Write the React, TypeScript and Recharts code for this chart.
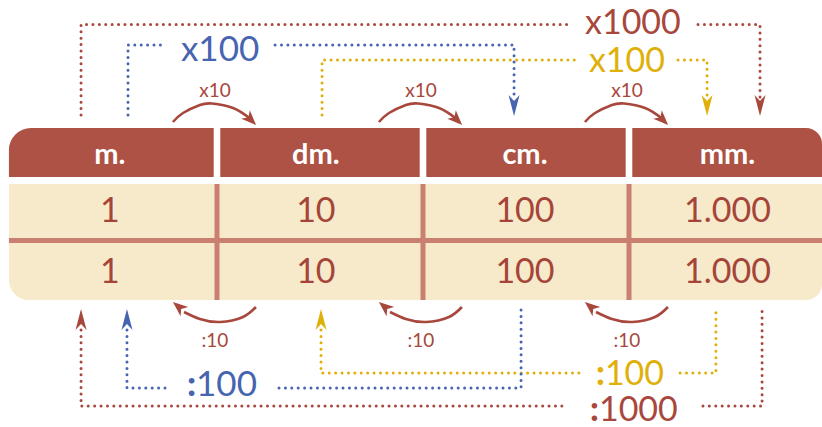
import React from "react";
import {
    ComposedChart,
    XAxis,
    YAxis,
    Line,
    Scatter,
    ReferenceArea,
    ReferenceLine,
    Rectangle,
} from "recharts";

// table content
const units = ["m.", "dm.", "cm.", "mm."];
const firstRow = [1, 10, 100, 1000];
const secondRow = [1, 10, 100, 1000];
const stepUp = "x10";
const stepDown = ":10";

// x is measured in table columns, y in px from the top
const colBounds = [-0.51, 0.5, 1.5, 2.5, 3.437];
const colCenters = [-0.02, 0.98, 1.995, 2.978];
const stepBounds = [0.5, 1.5, 2.5];

const RED = "#a8473c";
const BLUE = "#4664b0";
const YELLOW = "#e0b00a";
const HEADER = "#ad5244";
const CREAM = "#f7eacb";
const DIVIDER = "#c98071";
const VALUE = "#a5453a";
const FONT = "Lato, 'Open Sans', sans-serif";

// dotted connectors, [x, y] with a null gap where the label sits
const topRed = [[-0.16, 115], [-0.16, 24.5], [2.204, 24.5], [2.52, null], [2.835, 24.5], [3.136, 24.5], [3.136, 97]];
const topBlue = [[0.068, 115], [0.068, 45], [0.252, 45], [0.5, null], [0.782, 45], [1.942, 45], [1.942, 97]];
const topYellow = [[1.01, 115], [1.01, 60], [2.252, 60], [2.5, null], [2.738, 60], [2.879, 60], [2.879, 97]];
const bottomRed = [[-0.16, 330], [-0.16, 406], [2.204, 406], [2.52, null], [2.859, 406], [3.146, 406], [3.146, 309]];
const bottomBlue = [[0.063, 330], [0.063, 388], [0.252, 388], [0.52, null], [0.801, 388], [1.976, 388], [1.976, 309]];
const bottomYellow = [[1.005, 330], [1.005, 373], [2.282, 373], [2.5, null], [2.748, 373], [2.922, 373], [2.922, 309]];

const downTips = { red: [[3.136, 116]], blue: [[1.942, 116]], yellow: [[2.879, 116]] };
const upTips = { red: [[-0.16, 309]], blue: [[0.063, 309]], yellow: [[1.005, 309]] };

const bigLabels = {
    red: [{ x: 2.519, y: 34, label: "x1000" }, { x: 2.524, y: 421, label: ":1000" }],
    blue: [{ x: 0.515, y: 61, label: "x100" }, { x: 0.524, y: 396, label: ":100" }],
    yellow: [{ x: 2.49, y: 72, label: "x100" }, { x: 2.505, y: 385, label: ":100" }],
};

// arc shape around each column boundary: [offset from boundary, y]
const topArc = [[-0.214, 122], [-0.165, 113], [-0.083, 105], [-0.024, 103.5], [0.078, 108], [0.16, 118.5]];
const bottomArc = [[0.189, 307], [0.126, 317], [0.015, 322], [-0.083, 319], [-0.16, 312]];

const pts = (arr: (number | null)[][]) => arr.map(([x, y]) => ({ x, y }));

const topArcs = stepBounds.map((b) => pts(topArc.map(([dx, y]) => [b + dx, y])));
const bottomArcs = stepBounds.map((b) => pts(bottomArc.map(([dx, y]) => [b + dx, y])));
const topArcTips = stepBounds.map((b) => ({ x: b + 0.19, y: 125 }));
const bottomArcTips = stepBounds.map((b) => ({ x: b - 0.214, y: 302 }));

const fmt = (v: number) => String(v).replace(/\B(?=(\d{3})+(?!\d))/g, ".");

const headerMarks = units.map((u, i) => ({ x: colCenters[i], y: 164, label: u }));
const valueMarks = [
    ...firstRow.map((v, i) => ({ x: colCenters[i], y: 222, label: fmt(v) })),
    ...secondRow.map((v, i) => ({ x: colCenters[i], y: 283, label: fmt(v) })),
];
const stepMarks = [
    ...stepBounds.map((b) => ({ x: b - 0.01, y: 97, label: stepUp })),
    ...stepBounds.map((b) => ({ x: b - 0.01, y: 347, label: stepDown })),
];

const textShape = (size: number, color: string, weight: number, boldColon = false) => (p: any) => {
    const t: string = p.payload.label;
    return (
        <text x={p.cx} y={p.cy} textAnchor="middle" fontSize={size} fill={color} fontWeight={weight} fontFamily={FONT}>
            {boldColon && t.startsWith(":") ? (
                <>
                    <tspan fontWeight={900}>:</tspan>
                    {t.slice(1)}
                </>
            ) : (
                t
            )}
        </text>
    );
};

const dartShape = (color: string, angle: number, len: number, half: number) => (p: any) => (
    <path
        d={`M0,0 L${-len},${-half} L${-len * 0.72},0 L${-len},${half} Z`}
        transform={`translate(${p.cx},${p.cy}) rotate(${angle})`}
        fill={color}
    />
);

const roundRect = (radius: number[]) => (p: any) => (
    <Rectangle x={p.x} y={p.y} width={p.width} height={p.height} fill={p.fill} radius={radius as any} />
);

export default function App() {
    const dotted = (data: any[], color: string, key: string) => (
        <Line
            key={key}
            data={data}
            dataKey="y"
            type="linear"
            stroke={color}
            strokeWidth={3}
            strokeDasharray="0 6.4"
            strokeLinecap="round"
            dot={false}
            activeDot={false}
            isAnimationActive={false}
        />
    );
    return (
        <div style={{ position: "absolute", left: 0, top: 0, background: "#fff" }}>
            <ComposedChart width={822} height={427} margin={{ top: 0, right: 0, bottom: 0, left: 0 }}>
                <XAxis type="number" dataKey="x" domain={[-0.5534, 3.4369]} allowDataOverflow hide />
                <YAxis type="number" dataKey="y" domain={[0, 427]} reversed allowDataOverflow hide />

                {units.map((u, i) => (
                    <ReferenceArea
                        key={u}
                        x1={colBounds[i] + (i === 0 ? 0 : 0.016)}
                        x2={colBounds[i + 1] - (i === units.length - 1 ? 0 : 0.016)}
                        y1={128}
                        y2={177}
                        fill={HEADER}
                        fillOpacity={1}
                        ifOverflow="visible"
                        shape={roundRect([i === 0 ? 22 : 0, i === units.length - 1 ? 16 : 0, 0, 0])}
                    />
                ))}
                <ReferenceArea
                    x1={colBounds[0]}
                    x2={colBounds[colBounds.length - 1]}
                    y1={184}
                    y2={300}
                    fill={CREAM}
                    fillOpacity={1}
                    ifOverflow="visible"
                    shape={roundRect([0, 0, 16, 20])}
                />
                <ReferenceLine
                    segment={[{ x: colBounds[0], y: 240.5 }, { x: colBounds[colBounds.length - 1], y: 240.5 }]}
                    stroke={DIVIDER}
                    strokeWidth={5}
                    ifOverflow="visible"
                />
                {stepBounds.map((b) => (
                    <ReferenceLine
                        key={b}
                        segment={[{ x: b, y: 184 }, { x: b, y: 300 }]}
                        stroke={DIVIDER}
                        strokeWidth={5}
                        ifOverflow="visible"
                    />
                ))}

                {dotted(pts(topRed), RED, "tr")}
                {dotted(pts(topYellow), YELLOW, "ty")}
                {dotted(pts(topBlue), BLUE, "tb")}
                {dotted(pts(bottomRed), RED, "br")}
                {dotted(pts(bottomYellow), YELLOW, "by")}
                {dotted(pts(bottomBlue), BLUE, "bb")}

                {[...topArcs, ...bottomArcs].map((a, i) => (
                    <Line
                        key={"arc" + i}
                        data={a}
                        dataKey="y"
                        type="natural"
                        stroke={RED}
                        strokeWidth={2.6}
                        dot={false}
                        activeDot={false}
                        isAnimationActive={false}
                    />
                ))}

                <Scatter data={topArcTips} dataKey="y" shape={dartShape(RED, 45, 15, 6)} isAnimationActive={false} />
                <Scatter data={bottomArcTips} dataKey="y" shape={dartShape(RED, -140, 15, 6)} isAnimationActive={false} />
                <Scatter data={pts(downTips.red)} dataKey="y" shape={dartShape(RED, 90, 21, 5.5)} isAnimationActive={false} />
                <Scatter data={pts(downTips.blue)} dataKey="y" shape={dartShape(BLUE, 90, 21, 5.5)} isAnimationActive={false} />
                <Scatter data={pts(downTips.yellow)} dataKey="y" shape={dartShape(YELLOW, 90, 21, 5.5)} isAnimationActive={false} />
                <Scatter data={pts(upTips.red)} dataKey="y" shape={dartShape(RED, -90, 21, 5.5)} isAnimationActive={false} />
                <Scatter data={pts(upTips.blue)} dataKey="y" shape={dartShape(BLUE, -90, 21, 5.5)} isAnimationActive={false} />
                <Scatter data={pts(upTips.yellow)} dataKey="y" shape={dartShape(YELLOW, -90, 21, 5.5)} isAnimationActive={false} />

                <Scatter data={headerMarks} dataKey="y" shape={textShape(29, "#fff", 700)} isAnimationActive={false} />
                <Scatter data={valueMarks} dataKey="y" shape={textShape(34, VALUE, 400)} isAnimationActive={false} />
                <Scatter data={stepMarks} dataKey="y" shape={textShape(19, RED, 400)} isAnimationActive={false} />
                <Scatter data={bigLabels.red} dataKey="y" shape={textShape(34, RED, 400, true)} isAnimationActive={false} />
                <Scatter data={bigLabels.blue} dataKey="y" shape={textShape(35, BLUE, 400, true)} isAnimationActive={false} />
                <Scatter data={bigLabels.yellow} dataKey="y" shape={textShape(34, YELLOW, 400, true)} isAnimationActive={false} />
            </ComposedChart>
        </div>
    );
}
